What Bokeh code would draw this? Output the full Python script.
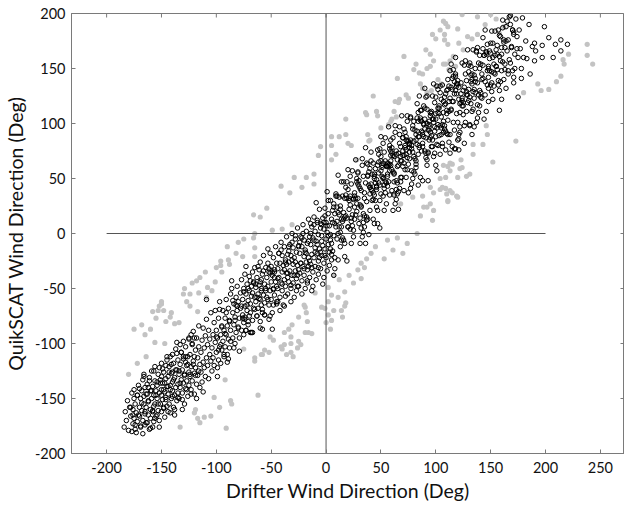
import math
from bokeh.plotting import figure
from bokeh.models import Range1d, FixedTicker
from bokeh.embed import file_html
from bokeh.resources import INLINE

# ---------------- data ----------------
x_ticks = [-200, -150, -100, -50, 0, 50, 100, 150, 200, 250]
y_ticks = [-200, -150, -100, -50, 0, 50, 100, 150, 200]
X_MIN, X_MAX = -232, 272
Y_MIN, Y_MAX = -200, 200
zero_h_x = [-200, 200]
zero_h_y = [0, 0]
zero_v_x = [0, 0]
zero_v_y = [-200, 200]

black_sw = [
(-184,-176),(-183,-162),(-182,-170),(-181,-152),(-180,-179),(-179,-158),(-178,-166),(-177,-145),(-176,-173),(-176,-160),(-175,-150),(-175,-168),
(-174,-178),(-174,-155),(-173,-163),(-172,-147),(-172,-171),(-171,-138),(-170,-158),(-170,-166),(-169,-176),(-169,-150),(-168,-143),(-168,-161),(-167,-170),(-167,-133),(-166,-155),(-166,-148),(-165,-174),(-165,-164),(-165,-140),(-166,-128),
(-164,-158),(-164,-172),(-163,-146),(-163,-137),(-162,-165),(-162,-152),(-161,-178),(-161,-131),(-160,-160),(-160,-143),(-160,-168),(-159,-150),(-159,-125),(-158,-139),(-158,-162),(-157,-171),(-157,-147),(-156,-155),(-156,-134),(-156,-121),(-155,-166),(-155,-143),(-157,-157),(-162,-140),(-158,-176),
(-154,-150),(-154,-138),(-153,-161),(-153,-128),(-152,-145),(-152,-170),(-151,-155),(-151,-133),(-150,-142),(-150,-118),(-150,-162),(-149,-151),(-149,-136),(-148,-126),(-148,-158),(-147,-144),(-147,-167),(-146,-132),(-146,-149),(-145,-139),(-145,-112),(-145,-157),(-148,-142),(-152,-122),(-154,-165),(-146,-120),(-150,-130),
(-144,-146),(-144,-130),(-143,-155),(-143,-121),(-142,-138),(-142,-163),(-141,-127),(-141,-150),(-140,-143),(-140,-110),(-140,-135),(-139,-158),(-139,-118),(-138,-147),(-138,-131),(-137,-140),(-137,-105),(-136,-152),(-136,-124),(-135,-137),(-135,-145),(-135,-115),(-142,-112),(-138,-165),(-144,-139),(-140,-126),(-136,-99),
(-134,-128),(-134,-150),(-133,-119),(-133,-140),(-132,-108),(-132,-133),(-131,-145),(-131,-124),(-130,-136),(-130,-98),(-130,-114),(-129,-155),(-129,-129),(-128,-141),(-128,-103),(-127,-120),(-127,-134),(-126,-112),(-126,-148),(-125,-126),(-125,-95),(-125,-138),(-131,-160),(-128,-117),(-133,-101),
(-124,-130),(-124,-110),(-123,-142),(-123,-121),(-122,-100),(-122,-134),(-121,-116),(-121,-89),(-120,-127),(-120,-146),(-119,-106),(-119,-122),(-118,-137),(-118,-95),(-117,-113),(-117,-129),(-116,-103),(-116,-84),(-115,-119),(-115,-140),(-120,-112),(-123,-92),(-118,-150),(-116,-125),
(-114,-108),(-114,-126),(-113,-97),(-113,-135),(-112,-117),(-112,-86),(-111,-122),(-111,-104),(-110,-130),(-110,-93),(-109,-113),(-109,-78),(-108,-120),(-108,-101),(-107,-88),(-107,-132),(-106,-110),(-106,-96),(-105,-116),(-105,-72),(-112,-144),(-109,-60),
]

black_w = [
(-104,-104),(-104,-125),(-103,-92),(-103,-113),(-102,-81),(-102,-120),(-101,-99),(-101,-70),(-100,-108),(-100,-88),(-99,-130),(-99,-95),(-98,-115),(-98,-77),(-97,-103),(-97,-62),(-96,-92),(-96,-118),(-95,-84),(-95,-106),
(-94,-98),(-94,-70),(-93,-112),(-93,-88),(-92,-77),(-92,-103),(-91,-92),(-91,-60),(-90,-84),(-90,-110),(-89,-96),(-89,-68),(-88,-79),(-88,-104),(-87,-88),(-87,-55),(-86,-43),(-86,-50),(-85,-95),(-85,-72),
(-84,-83),(-84,-64),(-83,-100),(-83,-76),(-82,-58),(-82,-90),(-81,-70),(-81,-48),(-80,-85),(-80,-62),(-79,-95),(-79,-77),(-78,-54),(-78,-68),(-77,-88),(-77,-42),(-76,-74),(-76,-60),(-75,-92),(-75,-81),(-74,-37),(-75,-50),
(-74,-66),(-74,-78),(-73,-55),(-73,-88),(-72,-46),(-72,-70),(-71,-61),(-71,-83),(-70,-52),(-70,-39),(-70,-75),(-69,-90),(-69,-64),(-68,-48),(-68,-57),(-67,-79),(-67,-35),(-66,-68),(-66,-44),(-65,-58),(-65,-31),(-67,-90),(-73,-30),(-69,-72),(-71,-50),
(-64,-62),(-64,-49),(-63,-75),(-63,-40),(-62,-55),(-62,-68),(-61,-33),(-61,-47),(-60,-60),(-60,-80),(-60,-26),(-59,-52),(-59,-42),(-58,-69),(-58,-37),(-57,-56),(-57,-20),(-56,-46),(-56,-63),(-55,-31),(-55,-52),(-58,-87),(-62,-30),(-60,-44),(-56,-74),(-63,-58),(-59,-65),
(-54,-58),(-54,-40),(-53,-48),(-53,-27),(-52,-65),(-52,-35),(-51,-52),(-51,-18),(-50,-44),(-50,-60),(-50,-30),(-49,-72),(-49,-38),(-48,-50),(-48,-22),(-47,-56),(-47,-33),(-46,-44),(-46,-12),(-45,-62),(-45,-27),(-45,-48),(-52,-78),(-49,-87),(-47,-40),(-53,-14),(-48,-65),(-51,-36),
(-44,-50),(-44,-32),(-43,-40),(-43,-18),(-42,-58),(-42,-27),(-41,-45),(-41,-8),(-40,-35),(-40,-52),(-40,-20),(-39,-65),(-39,-29),(-38,-42),(-38,-12),(-37,-48),(-37,-24),(-36,-36),(-36,-3),(-35,-55),(-35,-19),(-35,-40),(-42,-70),(-38,-33),(-44,-62),(-37,-57),(-41,-15),(-36,-28),
(-34,-44),(-34,-26),(-33,-34),(-33,-10),(-32,-50),(-32,-20),(-31,-38),(-31,0),(-30,-28),(-30,-45),(-30,-13),(-29,-58),(-29,-22),(-28,-34),(-28,-5),(-27,-41),(-27,-17),(-26,-29),(-26,5),(-25,-48),(-25,-11),(-25,-33),(-32,-62),(-28,-26),(-34,-16),(-27,-52),(-31,-8),(-26,-38),
(-24,-36),(-24,-18),(-23,-27),(-23,-3),(-22,-43),(-22,-12),(-21,-30),(-21,8),(-20,-21),(-20,-38),(-20,-6),(-19,-50),(-19,-15),(-18,-26),(-18,2),(-17,-33),(-17,-9),(-16,-22),(-16,13),(-15,-40),(-15,-3),(-15,-25),(-22,-55),(-18,-18),(-24,-8),(-17,-45),(-21,0),(-16,-30),
(-14,-28),(-14,-10),(-13,-19),(-13,6),(-12,-35),(-12,-4),(-11,-22),(-11,15),(-10,-13),(-10,-30),(-10,2),(-9,-42),(-9,-7),(-8,-18),(-8,10),(-7,-25),(-7,-1),(-6,-14),(-6,22),(-5,-32),(-5,5),(-5,-17),(-12,-48),(-8,-10),(-14,0),(-7,-37),(-11,8),(-6,-22),(-9,28),(-13,-52),
]

black_c = [
(-4,-20),(-4,-2),(-3,-11),(-3,14),(-2,-27),(-2,4),(-1,-14),(-1,23),(0,-5),(0,-22),(0,10),(1,-34),(1,1),(2,-10),(2,18),(3,-17),(3,7),(4,-6),(4,30),(5,-24),(5,13),(5,-9),(-2,-40),(2,-2),(-4,8),(3,-29),(-1,16),(4,-14),(1,38),(-3,-46),
(6,-16),(6,10),(7,-2),(7,24),(8,-22),(8,18),(9,6),(9,34),(10,11),(10,-5),(10,24),(11,-24),(11,19),(12,6),(12,33),(13,1),(13,25),(14,13),(14,47),(15,-4),(15,34),(15,11),(8,-32),(12,17),(6,21),(13,-12),(9,36),(14,6),(11,53),(7,-38),
(17,32),(24,17),(19,47),(22,4),(16,19),(25,-3),(20,40),(18,16),(23,11),(21,30),(17,-21),(24,57),(19,14),(22,34),(16,-6),(25,31),(20,6),(18,42),(23,-9),(21,22),(18,35),(23,14),(20,58),(16,13),(24,7),(21,32),(17,-9),(22,52),(19,-25),(25,32),
(31,26),(28,47),(34,18),(26,34),(32,5),(29,55),(35,37),(27,17),(33,68),(30,9),(30,43),(26,24),(34,1),(28,50),(32,25),(27,32),(35,16),(29,45),(31,-9),(33,62),(26,13),(31,41),(28,27),(34,10),(27,67),(32,24),(29,32),(35,6),(30,48),(33,-3),
(36,-9),(36,78),(37,29),(37,64),(38,13),(38,53),(39,44),(39,-1),(40,36),(40,59),(40,21),(41,74),(41,40),(42,54),(42,30),(43,64),(43,37),(44,52),(44,9),(45,59),(45,30),(45,46),(38,63),(42,39),(36,46),(43,13),(39,56),(44,35),(41,45),(37,15),(40,42),(44,50),
(47,62),(54,47),(49,77),(52,34),(46,49),(55,27),(50,70),(48,46),(53,41),(51,60),(47,9),(54,87),(49,44),(52,64),(46,24),(55,61),(50,36),(48,72),(53,21),(51,52),(48,65),(53,44),(50,88),(46,43),(54,37),(51,62),(47,21),(52,82),(49,5),(55,62),(48,55),(52,50),(50,57),(54,66),(46,42),
(61,56),(58,77),(64,48),(56,64),(62,35),(59,85),(65,67),(57,47),(63,98),(60,39),(60,73),(56,54),(64,31),(58,80),(62,55),(57,62),(65,46),(59,75),(61,21),(63,92),(56,43),(61,71),(58,57),(64,40),(57,97),(62,54),(59,62),(65,36),(60,78),(63,27),(58,63),(62,70),(60,58),(64,75),(56,52),(59,66),
]

black_ne = [
(66,73),(66,22),(67,97),(67,41),(68,79),(68,51),(69,66),(69,107),(70,61),(70,87),(70,71),(71,39),(71,95),(72,58),(72,78),(73,51),(73,85),(74,69),(74,107),(75,37),(75,84),(75,63),(68,66),(72,92),(66,38),(73,76),(69,51),(74,102),(71,64),(67,82),(70,75),(72,80),(68,70),(74,84),(66,62),(73,72),
(77,41),(84,102),(79,50),(82,85),(76,68),(85,125),(80,56),(78,77),(83,93),(81,68),(77,106),(84,44),(79,95),(82,63),(76,81),(85,78),(80,102),(78,45),(83,81),(81,94),(78,57),(83,118),(80,70),(76,78),(84,110),(81,54),(77,85),(82,66),(79,98),(85,80),(80,84),(82,90),(78,80),(84,88),(76,74),
(91,69),(88,92),(94,85),(86,103),(92,62),(89,99),(95,92),(87,112),(93,94),(90,75),(90,104),(86,51),(94,102),(88,82),(92,113),(87,75),(95,107),(89,88),(91,124),(93,74),(86,105),(91,87),(88,48),(94,99),(87,102),(92,67),(89,116),(95,87),(90,132),(93,48),(90,95),(92,100),(88,90),(94,97),
(96,111),(96,89),(97,125),(97,79),(98,101),(98,70),(99,119),(99,97),(100,88),(100,109),(100,62),(101,134),(101,96),(102,114),(102,80),(103,109),(103,89),(104,128),(104,72),(105,106),(105,122),(105,96),(98,136),(102,99),(96,79),(103,114),(99,73),(104,134),(101,57),(97,104),(100,104),(102,110),
(107,102),(114,133),(109,93),(112,120),(106,79),(115,141),(110,112),(108,98),(113,148),(111,90),(107,120),(114,112),(109,76),(112,134),(106,99),(115,120),(110,91),(108,124),(113,73),(111,140),(108,95),(113,123),(110,109),(106,82),(114,154),(111,103),(107,110),(112,83),(109,127),(115,79),
(121,76),(118,160),(124,116),(116,143),(122,97),(119,134),(125,130),(117,77),(123,119),(120,139),(120,101),(116,149),(124,123),(118,130),(122,110),(117,138),(125,119),(119,127),(121,86),(123,137),(116,101),(121,122),(118,143),(124,121),(117,127),(122,92),(119,136),(125,116),
(126,133),(126,82),(127,157),(127,101),(128,139),(128,111),(129,126),(129,167),(130,121),(130,147),(130,131),(131,99),(131,155),(132,118),(132,138),(133,111),(133,145),(134,129),(134,167),(135,97),(135,144),(135,123),(128,126),(132,152),(126,98),(133,136),
(137,101),(144,162),(139,110),(142,145),(136,128),(145,185),(140,116),(138,137),(143,153),(141,128),(137,166),(144,104),(139,155),(142,123),(136,141),(145,138),(140,162),(138,105),(143,141),(141,154),(138,117),(143,178),(140,130),(136,138),
]

black_top = [
(151,129),(148,152),(154,145),(146,163),(152,122),(149,159),(155,152),(147,172),(153,154),(150,135),(150,164),(146,111),(154,162),(148,142),(152,173),(147,135),(155,167),(149,148),(151,184),(153,134),(146,165),(151,147),
(156,171),(156,149),(157,185),(157,139),(158,161),(158,130),(159,179),(159,157),(160,148),(160,169),(160,122),(161,194),(161,156),(162,174),(162,140),(163,169),(163,149),(164,188),(164,132),(165,166),
(166,176),(167,158),(168,190),(169,170),(170,148),(171,183),(172,163),(173,195),(174,179),(175,160),(166,145),(168,198),(170,185),(172,150),(174,168),(171,137),
(176,185),(177,168),(178,150),(179,196),(180,160),(182,175),(183,159),(185,190),(188,170),(186,145),
(190,173),(191,166),(190,157),(197,171),(197,160),(203,178),(207,160),(209,172),(214,166),(214,176),(220,172),(199,188),
(175,124),(178,141),(171,142),(158,112),(148,120),(148,132),(131,98),(133,90),(118,77),(120,85),(121,90),
]

black_core_low = [
(-178,-158),(-177,-180),(-176,-165),(-175,-142),(-174,-174),(-173,-181),(-172,-147),(-171,-165),(-170,-141),(-169,-175),
(-168,-154),(-167,-182),(-166,-130),(-165,-162),(-164,-146),(-163,-172),(-162,-153),(-161,-134),(-160,-177),(-159,-143),
(-158,-161),(-157,-125),(-156,-168),(-155,-147),(-154,-135),(-153,-155),(-152,-176),(-151,-136),(-150,-147),(-149,-123),
(-148,-159),(-147,-136),(-146,-151),(-145,-115),(-144,-162),(-143,-126),(-142,-142),(-141,-119),(-140,-148),(-139,-133),
(-138,-160),(-137,-124),(-136,-109),(-135,-149),(-134,-125),(-133,-136),(-132,-108),(-131,-151),(-130,-112),(-129,-128),
(-128,-112),(-127,-142),(-126,-119),(-125,-96),(-124,-128),(-123,-146),(-122,-101),(-121,-119),(-120,-95),(-119,-129),
(-100,-94),(-99,-122),(-97,-69),(-96,-101),(-95,-85),(-93,-110),(-92,-91),(-91,-72),(-89,-114),(-88,-80),
(-87,-98),(-85,-61),(-84,-104),(-83,-79),(-81,-66),(-80,-86),(-79,-107),(-77,-66),(-76,-77),(-75,-53),
(-73,-88),(-72,-65),(-71,-80),(-69,-43),(-68,-90),(-67,-54),(-65,-69),(-64,-46),(-63,-75),(-61,-59),
(-60,-86),(-59,-50),(-57,-34),(-56,-74),(-55,-50),(-53,-60),(-52,-32),(-51,-75),(-49,-35),(-48,-51),
(-47,-35),(-45,-64),(-44,-41),(-43,-18),(-98,-106),(-90,-117),(-82,-65),(-74,-76),(-66,-45),(-58,-72),
]

black_core_mid = [
(-40,-46),(-38,-66),(-37,-26),(-35,-36),(-34,-12),(-32,-47),(-31,-24),(-29,-38),(-28,-2),(-26,-48),
(-25,-12),(-23,-27),(-22,-4),(-20,-32),(-19,-17),(-17,-43),(-16,-7),(-14,9),(-13,-31),(-11,-6),
(-10,-17),(-8,12),(-7,-31),(-5,9),(-4,-7),(-2,10),(-1,-20),(1,7),(2,30),(4,-1),
(5,-19),(7,27),(8,9),(10,34),(11,0),(13,22),(14,-6),(16,47),(17,15),(19,32),
(20,6),(22,26),(23,45),(25,3),(26,37),(28,20),(29,56),(31,14),(32,39),(34,52),
(35,32),(37,12),(38,52),(40,42),(41,66),(43,31),(44,54),(46,40),(47,76),(49,30),
(50,66),(52,51),(53,74),(55,46),(56,61),(58,35),(59,71),(61,87),(62,47),(64,72),
(65,61),(67,90),(68,47),(70,87),(71,71),(73,88),(74,58),(76,82),(77,105),(79,74),
]

black_core_high = [
(82,60),(83,105),(85,88),(86,112),(88,79),(89,100),(91,73),(92,125),(94,94),(95,110),
(97,85),(98,104),(100,124),(101,81),(103,116),(104,98),(106,135),(107,92),(109,118),(110,130),
(112,111),(113,90),(115,131),(116,120),(118,145),(119,109),(121,133),(122,118),(124,155),(125,108),
(127,145),(128,129),(130,153),(131,124),(133,140),(134,113),(136,150),(137,165),(139,126),(140,150),
(142,140),(143,168),(145,126),(146,165),(148,150),(149,166),(151,137),(152,160),(154,184),(155,152),
(157,135),(158,180),(160,163),(161,187),(163,154),(164,175),(166,148),(167,197),(169,169),(170,185),
(84,72),(87,93),(90,114),(93,73),(96,109),(99,93),(102,131),(105,90),(108,117),(111,131),
(114,113),(117,94),(120,136),(123,127),(126,153),(129,119),(132,144),(135,131),(138,169),(141,124),
(144,162),(147,148),(150,173),(153,146),(156,163),(159,138),(162,176),(165,193),(168,155),(171,181),
]

grey_up = [
(107,193),(111,188),(97,181),(100,177),(104,185),(108,176),(71,161),(91,167),(95,163),(98,157),(82,154),(80,149),(85,146),(65,141),(88,132),(92,128),(96,130),(100,134),(102,140),(105,136),
(43,125),(63,120),(67,122),(73,126),(37,108),(18,104),(36,110),(46,111),(50,96),(57,99),(60,104),(64,106),(5,88),(12,88),(18,90),(-5,79),(5,80),(23,80),(38,90),(40,85),(28,67),(9,72),(5,67),(-7,71),
(124,199),(138,197),(150,199),(145,190),(109,191),(120,186),(108,181),(111,172),(129,179),(133,177),(138,181),(121,173),(125,167),(116,161),(113,157),(109,154),(118,152),(112,149),(86,136),(75,123),(66,119),(62,111),(47,107),(59,102),(39,84),(20,82),(95,152),(107,154),(88,145),(92,150),
(155,195),(162,188),(168,198),(158,182),
(-29,51),(-41,43),(-33,37),(-18,51),(-11,54),(-11,45),(-22,42),(-49,3),(-40,4),(-31,8),(-66,17),(-66,-4),(-75,-5),(-65,0),(-82,-18),(-76,-21),(-65,-21),(-65,-13),(-89,-24),(-88,-28),(-96,-29),(-100,-31),(-96,-25),(-95,-35),
(-101,-44),(-108,-49),(-104,-52),(-115,-40),(-122,-45),(-118,-43),(-116,-54),(-109,-58),(-124,-55),(-130,-55),(-129,-50),(-124,-66),(-127,-62),(-150,-62),(-152,-66),(-153,-70),(-148,-70),(-141,-72),(-158,-71),(-150,-64),(-142,-76),(-138,-82),(-134,-81),(-117,-71),
(-175,-87),(-168,-83),(-160,-87),(-165,-92),(-156,-99),(-147,-100),(-164,-112),(-172,-118),(-180,-128),(-146,-80),(-155,-77),(-60,15),(-54,23),(-80,-8),(-90,-12),(-110,-35),
]

grey_low = [
(238,172),(238,162),(243,154),(221,163),(216,158),(217,154),(214,143),(210,138),(203,131),(196,130),(193,136),(180,128),(173,84),(143,81),(134,72),(134,81),(146,98),(147,90),(152,65),
(113,64),(107,62),(122,59),(124,60),(131,54),(128,52),(109,41),(115,37),(119,34),(111,29),(104,50),(104,40),(123,67),(111,61),(109,51),(95,42),(113,39),(120,33),(111,30),(88,34),(79,33),(89,24),(95,27),
(62,36),(68,27),(86,16),(92,24),(98,21),(97,12),(98,37),(106,42),(110,36),(113,57),(115,63),(120,51),(65,-4),(74,-9),(83,0),(56,-6),(45,-12),(41,-18),(37,-23),(53,-23),(61,-15),(70,-18),
(32,-27),(29,-33),(32,-41),(21,-38),(12,-42),(7,-38),(2,-49),(5,-56),(11,-58),(17,-53),(18,-63),(2,-62),(-4,-67),(-10,-54),(-20,-65),(35,-31),(25,-45),(7,-70),(14,-70),(17,-66),(15,-76),(5,-79),(0,-81),(4,-87),(2,-74),
(-19,-67),(-18,-72),(-25,-76),(-17,-80),(-19,-90),(-13,-91),(-31,-83),(-34,-87),(-38,-90),(-32,-94),(-51,-94),(-48,-97),(-25,-98),(-23,-101),(-32,-100),(-38,-101),(-26,-104),(-40,-105),(-32,-108),(-36,-110),(-30,-112),
(-56,-106),(-58,-110),(-41,-103),(-52,-108),(-65,-113),(-16,-90),(-1,-68),(-75,-105),(-65,-116),(-59,-110),(-62,-147),(-92,-133),(-102,-149),(-87,-152),(-86,-155),(-97,-158),(-105,-166),(-111,-167),(-117,-168),(-120,-163),(-119,-160),(-91,-177),(-133,-176),(-115,-172),
]

# ---------------- figure ----------------
p = figure(width=624, height=504, output_backend="svg", toolbar_location=None,
           x_range=Range1d(X_MIN, X_MAX), y_range=Range1d(Y_MIN, Y_MAX),
           min_border_left=69, min_border_right=0, min_border_top=13, min_border_bottom=51,
           background_fill_color="white", border_fill_color="white")
AX = "#7a7a7a"
FONT = "Lato"
p.outline_line_color = AX
p.outline_line_width = 1
p.xgrid.grid_line_color = None
p.ygrid.grid_line_color = None

xt = FixedTicker(ticks=x_ticks)
yt = FixedTicker(ticks=y_ticks)
p.xaxis.ticker = xt
p.yaxis.ticker = yt
p.xaxis.major_label_overrides = {t: str(t) for t in x_ticks}
p.yaxis.major_label_overrides = {t: str(t) for t in y_ticks}

for ax in (p.xaxis[0], p.yaxis[0]):
    ax.axis_line_color = AX
    ax.major_tick_line_color = AX
    ax.major_tick_in = 4
    ax.major_tick_out = 0
    ax.minor_tick_line_color = None
    ax.major_label_text_font = FONT
    ax.major_label_text_font_size = "14.5px"
    ax.major_label_text_color = "#111111"
    ax.axis_label_text_font = FONT
    ax.axis_label_text_font_size = "19.5px"
    ax.axis_label_text_font_style = "normal"
    ax.axis_label_text_color = "#111111"

p.xaxis.major_label_standoff = 8
p.yaxis.major_label_standoff = 6
p.xaxis.axis_label_standoff = 3
p.yaxis.axis_label_standoff = 5
p.xaxis.axis_label = "Drifter Wind Direction (Deg)"
p.yaxis.axis_label = "QuikSCAT Wind Direction (Deg)"

# inward ticks on the top and right edges of the box
p.scatter(x_ticks, [Y_MAX] * len(x_ticks), marker="dash", size=8, angle=math.pi / 2,
          line_color=AX, line_width=1)
p.scatter([X_MAX] * len(y_ticks), y_ticks, marker="dash", size=8,
          line_color=AX, line_width=1)

# grey points (beneath)
grey = grey_up + grey_low
p.scatter([q[0] for q in grey], [q[1] for q in grey], size=5.2,
          fill_color="#c3c3c3", line_color=None)

# zero lines
p.line(zero_h_x, zero_h_y, line_color="#555555", line_width=1)
p.line(zero_v_x, zero_v_y, line_color="#555555", line_width=1)

# black open circles
black = (black_sw + black_w + black_c + black_ne + black_top
         + black_core_low + black_core_mid + black_core_high)
p.scatter([q[0] for q in black], [q[1] for q in black], size=4.5,
          fill_color=None, line_color="#000000", line_width=1)

open("out.html", "w").write(file_html(p, INLINE))
